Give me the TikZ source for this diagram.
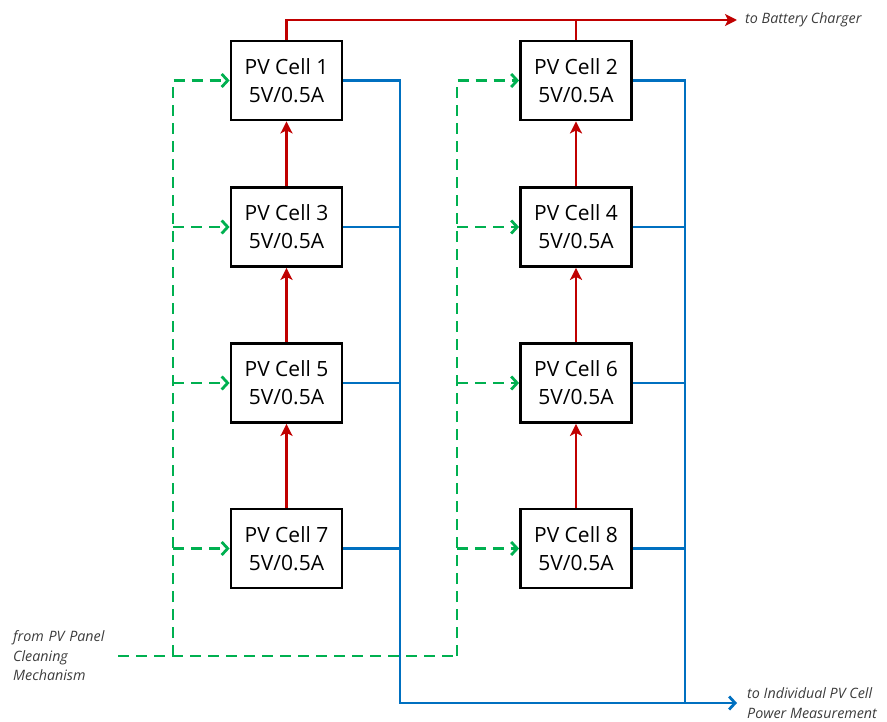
\documentclass[tikz,border=0pt]{standalone}
\usepackage{fontspec}
\setmainfont{Open Sans}
\usetikzlibrary{arrows.meta,positioning}
\definecolor{pvred}{RGB}{192,0,0}
\definecolor{pvblue}{RGB}{0,112,192}
\definecolor{pvgreen}{RGB}{0,176,80}
\definecolor{notegray}{RGB}{60,60,60}
\begin{document}
\begin{tikzpicture}[x=1pt, y=-1pt,
    cell/.style={draw, line width=2.8pt, minimum width=111pt, minimum height=79pt,
        inner sep=0pt, align=center, font=\fontsize{21}{28}\selectfont},
    note/.style={inner sep=0pt, align=left, text=notegray, font=\itshape\fontsize{14.3}{19.5}\selectfont},
    power/.style={pvred, line width=2.8pt},
    meas/.style={pvblue, line width=2.8pt},
    clean/.style={pvgreen, line width=2.8pt, dash pattern=on 11pt off 7pt}]
    \useasboundingbox (0,0) rectangle (887,722);

    % Define the PV cells
    \node[cell] (c1) at (286.5,80.5) {PV Cell 1\\5V/0.5A};
    \node[cell] (c3) at (286.5,227) {PV Cell 3\\5V/0.5A};
    \node[cell] (c5) at (286.5,383) {PV Cell 5\\5V/0.5A};
    \node[cell] (c7) at (286.5,548.5) {PV Cell 7\\5V/0.5A};
    \node[cell] (c2) at (576,80.5) {PV Cell 2\\5V/0.5A};
    \node[cell] (c4) at (576,227) {PV Cell 4\\5V/0.5A};
    \node[cell] (c6) at (576,383) {PV Cell 6\\5V/0.5A};
    \node[cell] (c8) at (576,548.5) {PV Cell 8\\5V/0.5A};

    % Define the bus corners
    \coordinate (measL) at (400,703);
    \coordinate (measR) at (685,703);
    \coordinate (cleanL) at (173,656);
    \coordinate (cleanR) at (457,656);

    % Place the labels outside
    \node[note, anchor=west] (charger) at (745,20) {to Battery Charger};
    \node[note, anchor=west] (measure) at (747,703) {to Individual PV Cell\\Power Measurement};
    \node[note, anchor=west, text width=105pt] (source) at (13,656) {from PV Panel\\Cleaning\\Mechanism};

    % Draw the series chain (red)
    \foreach \lo/\hi in {c3/c1, c5/c3, c7/c5, c4/c2, c6/c4, c8/c6}
        \draw[power, -{Stealth[length=12pt, width=12pt, inset=3pt]}] (\lo.north) -- (\hi.south);
    \draw[power, -{Stealth[length=12pt, width=12pt, inset=3pt]}] (c1.north) |- ([xshift=-8pt]charger.west);
    \draw[power] (c2.north) -- (c2.north |- charger.west);

    % Draw the measurement bus (blue)
    \draw[meas, -{Straight Barb[length=6pt, width=13pt]}] (c1.east) -| (measL) -- ([xshift=-10pt]measure.west);
    \draw[meas] (c2.east) -| (measR);
    \foreach \c in {c3, c5, c7}
        \draw[meas] (\c.east) -- (\c.east -| measL);
    \foreach \c in {c4, c6, c8}
        \draw[meas] (\c.east) -- (\c.east -| measR);

    % Draw the cleaning signals (green)
    \draw[clean] (source.east) -- (cleanR);
    \draw[clean, -{Straight Barb[length=6pt, width=13pt]}] (cleanL) |- (c1.west);
    \draw[clean, -{Straight Barb[length=6pt, width=13pt]}] (cleanR) |- (c2.west);
    \foreach \c in {c3, c5, c7}
        \draw[clean, -{Straight Barb[length=6pt, width=13pt]}] (\c.west -| cleanL) -- (\c.west);
    \foreach \c in {c4, c6, c8}
        \draw[clean, -{Straight Barb[length=6pt, width=13pt]}] (\c.west -| cleanR) -- (\c.west);
\end{tikzpicture}
\end{document}
